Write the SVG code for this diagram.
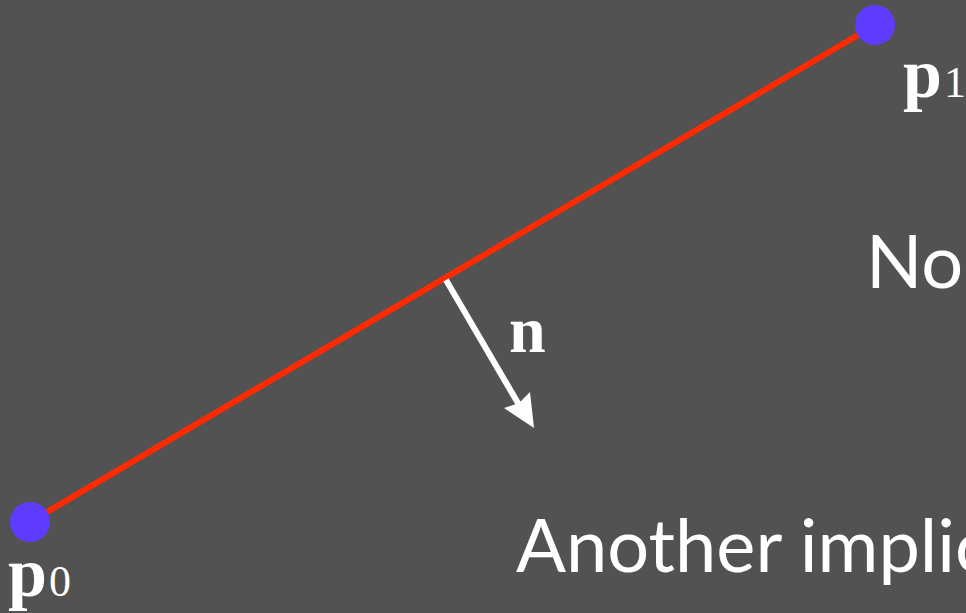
<svg xmlns="http://www.w3.org/2000/svg" width="966" height="613" viewBox="0 0 966 613">
<style>
.pt{fill:#5f3bff}
.lbl{font-family:"Liberation Serif","DejaVu Serif",serif;fill:#ffffff}
.b{font-weight:bold}
.sub{font-weight:normal}
.big{font-family:"Lato","Open Sans","Liberation Sans",sans-serif;fill:#ffffff;font-size:74px}
</style>
<rect width="966" height="613" fill="#525252"/>
<g id="connectors">
<line x1="30" y1="522" x2="875" y2="25" stroke="#ff2a00" stroke-width="6"/>
<line x1="446" y1="280" x2="522" y2="410" stroke="#ffffff" stroke-width="6"/>
<polygon points="534,428 504,408 519,403 530,392" fill="#ffffff"/>
</g>
<g id="p0">
<circle class="pt" cx="30" cy="522" r="20"/>
<text class="lbl" x="8" y="596" font-size="70"><tspan class="b">p</tspan><tspan class="sub" font-size="44" dx="2">0</tspan></text>
</g>
<g id="p1">
<circle class="pt" cx="875" cy="25" r="20"/>
<text class="lbl" x="903" y="97" font-size="70"><tspan class="b">p</tspan><tspan class="sub" font-size="44" dx="2">1</tspan></text>
</g>
<g id="n">
<text class="lbl b" x="509" y="352" font-size="66">n</text>
</g>
<text class="big" x="866" y="288">No</text>
<text class="big" x="516" y="572">Another implic</text>
</svg>
